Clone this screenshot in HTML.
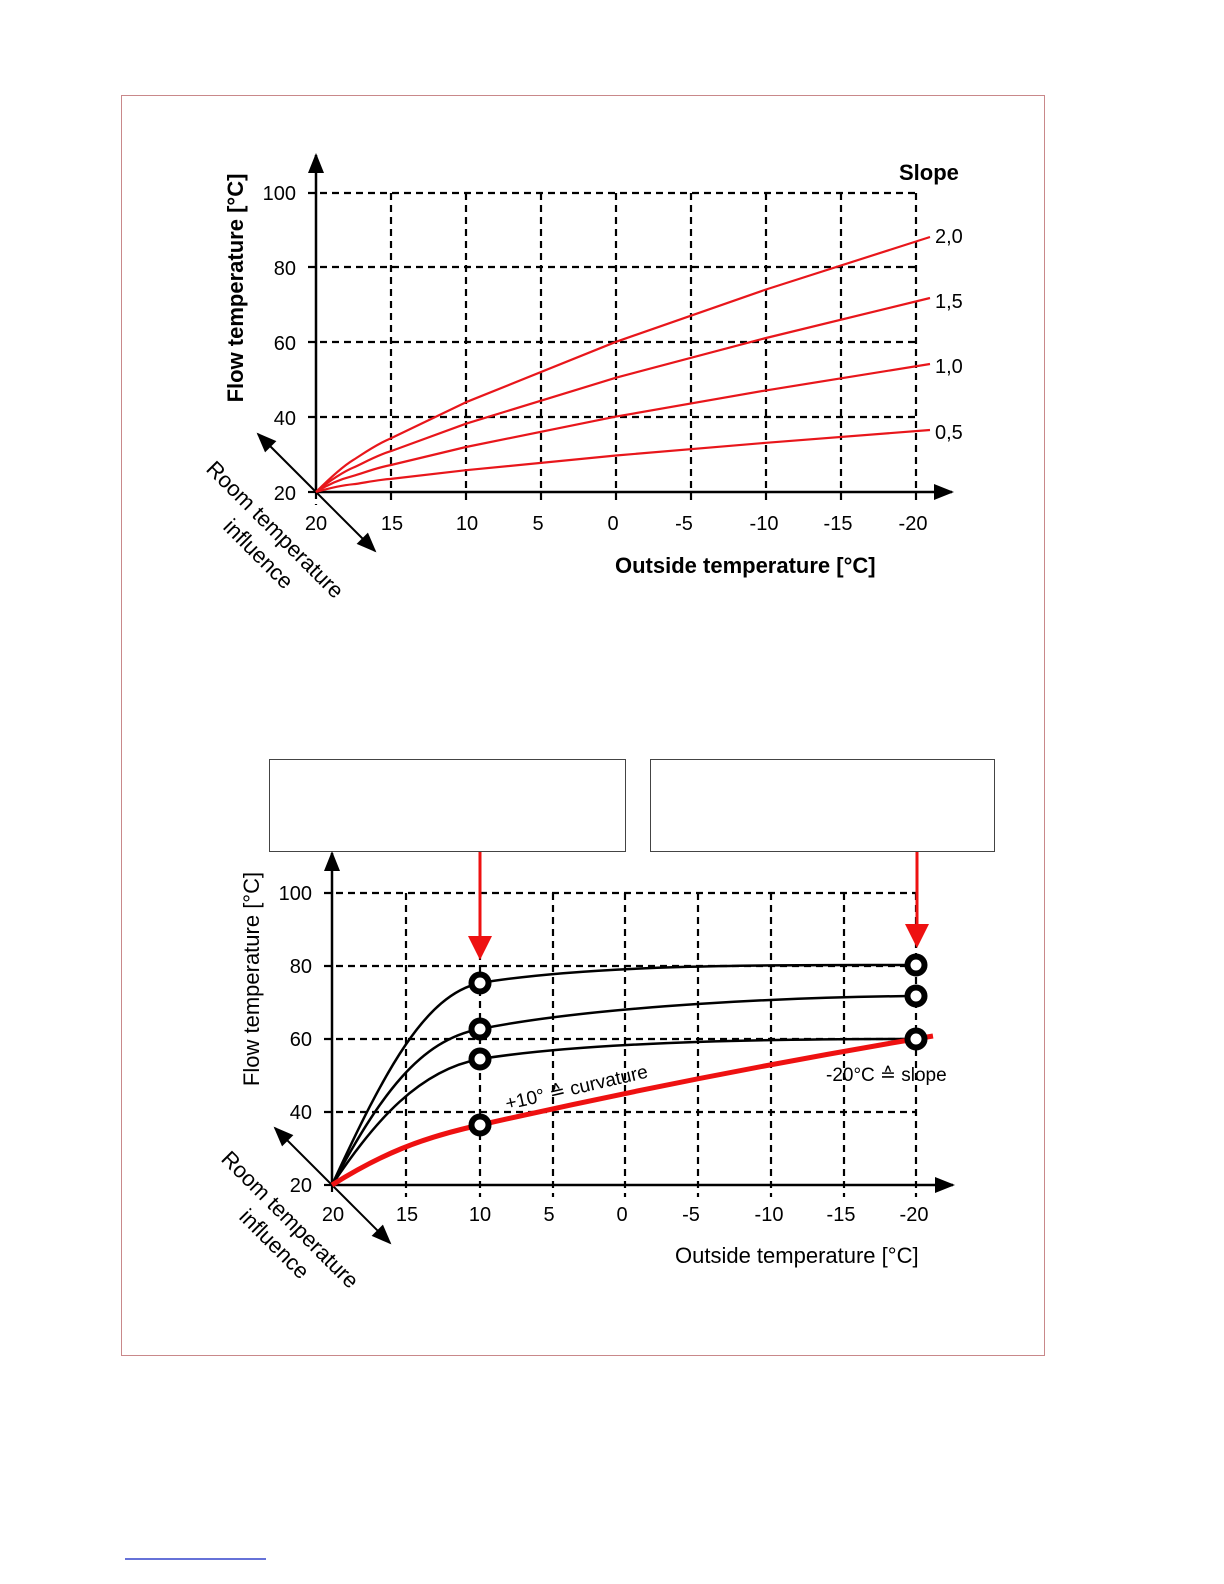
<!DOCTYPE html>
<html><head><meta charset="utf-8"><style>html,body{margin:0;padding:0;background:#fff;overflow:hidden;width:1224px;height:1584px}svg{display:block}text{font-family:"Liberation Sans",Arial,sans-serif;fill:#000}</style></head><body>
<svg width="1224" height="1584" viewBox="0 0 1224 1584">
<defs>
<marker id="ab" viewBox="0 0 10 8" markerWidth="24" markerHeight="16" refX="9" refY="4" orient="auto" markerUnits="userSpaceOnUse"><path d="M0,0 L10,4 L0,8z" fill="#000"/></marker>
</defs>
<rect x="121.5" y="95.5" width="923" height="1260" fill="none" stroke="#c9888a" stroke-width="1"/>
<line x1="125" y1="1559" x2="266" y2="1559" stroke="#3344cc" stroke-width="1.5"/>

<!-- Chart 1 -->
<g stroke="#000" stroke-width="2.2" stroke-dasharray="7,5" fill="none">
<line x1="308" y1="193" x2="916" y2="193"/><line x1="308" y1="267" x2="916" y2="267"/><line x1="308" y1="342" x2="916" y2="342"/><line x1="308" y1="417" x2="916" y2="417"/><line x1="308" y1="492" x2="316" y2="492"/>
<line x1="391" y1="193" x2="391" y2="505"/><line x1="466" y1="193" x2="466" y2="505"/><line x1="541" y1="193" x2="541" y2="505"/><line x1="616" y1="193" x2="616" y2="505"/><line x1="691" y1="193" x2="691" y2="505"/><line x1="766" y1="193" x2="766" y2="505"/><line x1="841" y1="193" x2="841" y2="505"/><line x1="916" y1="193" x2="916" y2="505"/><line x1="316" y1="492" x2="316" y2="505"/>
</g>
<line x1="316" y1="492" x2="316" y2="155" stroke="#000" stroke-width="2.5" marker-end="url(#ab)"/>
<line x1="316" y1="492" x2="952" y2="492" stroke="#000" stroke-width="2.5" marker-end="url(#ab)"/>
<line x1="316" y1="492" x2="258" y2="434" stroke="#000" stroke-width="2" marker-end="url(#ab)"/>
<line x1="316" y1="492" x2="375" y2="551" stroke="#000" stroke-width="2" marker-end="url(#ab)"/>
<g fill="none" stroke="#e8161b" stroke-width="2.2" stroke-linejoin="round">
<path d="M316,492 C330,478 345,465 353.5,459.8 S375,445 391,438.2 L466,402.2 L616,341.8 L766,289.5 L930,237"/>
<path d="M316,492 C330,480 345,471 353.5,467.5 S375,456 391,451.1 L466,423.7 L616,377.7 L766,338 L930,298"/>
<path d="M316,492 C330,483 345,478 353.5,475.8 S375,468 391,465 L466,447 L616,416.6 L766,390.4 L930,364"/>
<path d="M316,492 C330,488 345,485 353.5,484.2 S375,480 391,478.9 L466,470.2 L616,455.5 L766,442.8 L930,430"/>
</g>
<g font-size="20" text-anchor="end"><text x="296" y="200">100</text><text x="296" y="275">80</text><text x="296" y="350">60</text><text x="296" y="425">40</text><text x="296" y="500">20</text></g>
<g font-size="20" text-anchor="middle"><text x="316" y="530">20</text><text x="392" y="530">15</text><text x="467" y="530">10</text><text x="538" y="530">5</text><text x="613" y="530">0</text><text x="684" y="530">-5</text><text x="764" y="530">-10</text><text x="838" y="530">-15</text><text x="913" y="530">-20</text></g>
<g font-size="20"><text x="935" y="243">2,0</text><text x="935" y="308">1,5</text><text x="935" y="373">1,0</text><text x="935" y="439">0,5</text></g>
<text x="899" y="180" font-size="22" font-weight="bold">Slope</text>
<text x="615" y="573" font-size="22" font-weight="bold">Outside temperature [°C]</text>
<text transform="translate(243,288) rotate(-90)" font-size="22" font-weight="bold" text-anchor="middle">Flow temperature [°C]</text>
<text transform="translate(205,470) rotate(45)" font-size="22">Room temperature</text>
<text transform="translate(222,528) rotate(45)" font-size="22">influence</text>

<!-- Chart 2 -->
<rect x="269.5" y="759.5" width="356" height="92" fill="#fff" stroke="#444" stroke-width="1"/>
<rect x="650.5" y="759.5" width="344" height="92" fill="#fff" stroke="#444" stroke-width="1"/>
<g stroke="#000" stroke-width="2.2" stroke-dasharray="7,5" fill="none">
<line x1="324" y1="893" x2="916" y2="893"/><line x1="324" y1="966" x2="916" y2="966"/><line x1="324" y1="1039" x2="916" y2="1039"/><line x1="324" y1="1112" x2="916" y2="1112"/><line x1="324" y1="1185" x2="332" y2="1185"/>
<line x1="406" y1="893" x2="406" y2="1197"/><line x1="480" y1="893" x2="480" y2="1197"/><line x1="553" y1="893" x2="553" y2="1197"/><line x1="625" y1="893" x2="625" y2="1197"/><line x1="698" y1="893" x2="698" y2="1197"/><line x1="771" y1="893" x2="771" y2="1197"/><line x1="844" y1="893" x2="844" y2="1197"/><line x1="916" y1="893" x2="916" y2="1197"/><line x1="332" y1="1185" x2="332" y2="1197"/>
</g>
<line x1="332" y1="1185" x2="332" y2="853" stroke="#000" stroke-width="2.5" marker-end="url(#ab)"/>
<line x1="332" y1="1185" x2="953" y2="1185" stroke="#000" stroke-width="2.5" marker-end="url(#ab)"/>
<line x1="332" y1="1185" x2="275" y2="1128" stroke="#000" stroke-width="2" marker-end="url(#ab)"/>
<line x1="332" y1="1185" x2="390" y2="1243" stroke="#000" stroke-width="2" marker-end="url(#ab)"/>
<g fill="none" stroke="#000" stroke-width="2.5">
<path d="M332,1185 C385,1070 425,995 480,983 C600,963 800,965 916,965"/>
<path d="M332,1185 C380,1095 420,1040 480,1029 C600,1005 800,997 916,996"/>
<path d="M332,1185 C375,1120 420,1070 480,1059 C600,1040 800,1039 916,1039"/>
</g>
<path d="M332,1185 C380,1155 420,1138 480,1125 Q700,1075 933,1036" fill="none" stroke="#ee1111" stroke-width="5"/>
<g fill="#ee1111" stroke="#ee1111" stroke-width="3">
<line x1="480" y1="852" x2="480" y2="940"/><path d="M468,936 L492,936 L480,960z" stroke="none"/>
<line x1="917" y1="852" x2="917" y2="928"/><path d="M905,924 L929,924 L917,948z" stroke="none"/>
</g>
<g fill="#fff" stroke="#000" stroke-width="6">
<circle cx="480" cy="983" r="8.5"/><circle cx="480" cy="1029" r="8.5"/><circle cx="480" cy="1059" r="8.5"/><circle cx="480" cy="1125" r="8.5"/>
<circle cx="916" cy="965" r="8.5"/><circle cx="916" cy="996" r="8.5"/><circle cx="916" cy="1039" r="8.5"/>
</g>
<g font-size="20" text-anchor="end"><text x="312" y="900">100</text><text x="312" y="973">80</text><text x="312" y="1046">60</text><text x="312" y="1119">40</text><text x="312" y="1192">20</text></g>
<g font-size="20" text-anchor="middle"><text x="333" y="1221">20</text><text x="407" y="1221">15</text><text x="480" y="1221">10</text><text x="549" y="1221">5</text><text x="622" y="1221">0</text><text x="691" y="1221">-5</text><text x="769" y="1221">-10</text><text x="841" y="1221">-15</text><text x="914" y="1221">-20</text></g>
<text transform="translate(507,1110) rotate(-13)" font-size="19">+10° ≙ curvature</text>
<text x="826" y="1081" font-size="19">-20°C ≙ slope</text>
<text x="675" y="1263" font-size="22">Outside temperature [°C]</text>
<text transform="translate(259,979) rotate(-90)" font-size="22" text-anchor="middle">Flow temperature [°C]</text>
<text transform="translate(220,1160) rotate(45)" font-size="22">Room temperature</text>
<text transform="translate(238,1218) rotate(45)" font-size="22">influence</text>
</svg>
</body></html>
